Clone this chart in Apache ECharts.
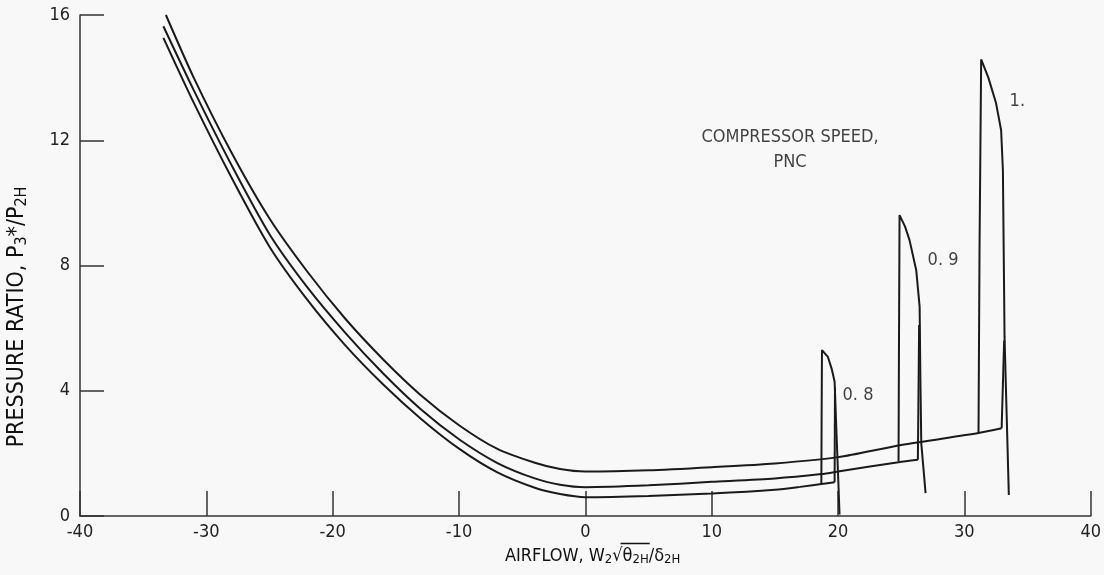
<!DOCTYPE html>
<html><head><meta charset="utf-8">
<script src="https://cdn.jsdelivr.net/npm/echarts@6/dist/echarts.min.js"></script>
<style>html,body{margin:0;padding:0;background:#f8f8f8}#c{width:1104px;height:575px}</style>
</head><body><div id="c"></div>
<script>
// ---- data ----
const xMin = -40, xMax = 40, xStep = 10;
const yMin = 0, yMax = 16, yStep = 4;

// operating lines (three), airflow vs pressure ratio
const curveUpper = [[-33.2,16.0],[-31,14.0],[-28,11.6],[-25,9.5],[-22,7.8],[-19,6.3],[-16,5.0],[-13,3.85],[-10,2.9],[-7,2.15],[-4,1.7],[-2,1.5],[0,1.42],[5,1.46],[10,1.56],[15,1.68],[20,1.88],[25,2.27],[31.12,2.65],[32.95,2.8]];
const curveMiddle = [[-33.4,15.64],[-31,13.6],[-28,11.2],[-25,9.0],[-22,7.3],[-19,5.85],[-16,4.55],[-13,3.4],[-10,2.45],[-7,1.7],[-4,1.2],[-2,1.0],[0,0.92],[5,0.98],[10,1.09],[15,1.2],[18.68,1.34],[20,1.42],[24.79,1.72],[26.32,1.8]];
const curveLower = [[-33.4,15.27],[-31,13.2],[-28,10.8],[-25,8.6],[-22,6.9],[-19,5.45],[-16,4.2],[-13,3.1],[-10,2.15],[-7,1.4],[-4,0.9],[-2,0.7],[0,0.6],[5,0.64],[10,0.72],[15,0.84],[17,0.93],[18.68,1.02],[19.73,1.08]];

// compressor speed lines
const speed08 = [[18.68,1.02],[18.7,3.0],[18.73,5.30],[19.2,5.08],[19.5,4.7],[19.73,4.29],[19.87,2.74],[19.99,1.47],[20.12,0.05]];
const speed09 = [[24.79,1.75],[24.82,5.0],[24.87,9.61],[25.3,9.25],[25.66,8.81],[26.19,7.85],[26.46,6.68],[26.52,4.34],[26.59,2.32],[26.93,0.73]];
const speed10 = [[31.12,2.65],[31.2,8.5],[31.33,14.58],[31.9,14.0],[32.5,13.2],[32.91,12.32],[33.05,11.04],[33.13,7.85],[33.18,5.72],[33.35,3.2],[33.52,0.67]];
const rise08 = [[19.73,1.08],[19.76,4.1]];
const rise09 = [[26.32,1.8],[26.42,6.1]];
const rise10 = [[32.95,2.8],[33.15,5.6]];

const speedLabels = ['0. 8','0. 9','1.'];
const speedLabelAt = [[20.36,3.86],[27.09,8.17],[33.58,13.25]];
const legendTitle = 'COMPRESSOR SPEED,\nPNC';
const legendTitleAt = [16.2,11.7];

const FONT = "'DejaVu Sans Condensed','Liberation Sans Narrow','Liberation Sans',sans-serif";
const INK = '#1a1a1a';

function lineSeries(d){
  return {type:'line', data:d, showSymbol:false, symbol:'none', smooth:false,
    lineStyle:{color:INK, width:2}, silent:true, z:3};
}
function curveSeries(d){
  const s = lineSeries(d); s.smooth = 0.25; return s;
}

// measure pieces of the x-axis title to place the radical's vinculum
const ctx = document.createElement('canvas').getContext('2d');
function tw(t, size){ ctx.font = size + 'px ' + FONT; return ctx.measureText(t).width; }
const radStart = tw('AIRFLOW, W',18) + tw('2',13);
const radW = tw('\u221A',18);
const barX0 = radStart + radW*0.8;
const barX1 = radStart + radW + tw('\u03B8',18) + tw('2H',13) + 1;

const chart = echarts.init(document.getElementById('c'), null, {renderer:'canvas'});
chart.setOption({
  backgroundColor:'#f8f8f8',
  animation:false,
  grid:{left:80, right:13, top:15, bottom:59, containLabel:false},
  xAxis:{type:'value', min:xMin, max:xMax, interval:xStep,
    axisLine:{onZero:false, lineStyle:{color:'#333', width:1.5}},
    axisTick:{inside:true, length:25, lineStyle:{color:'#333', width:1.5}},
    axisLabel:{color:'#222', fontFamily:FONT, fontSize:18, margin:7},
    splitLine:{show:false}},
  yAxis:{type:'value', min:yMin, max:yMax, interval:yStep,
    axisLine:{show:true, onZero:false, lineStyle:{color:'#333', width:1.5}},
    axisTick:{show:true, inside:true, length:24, lineStyle:{color:'#333', width:1.5}},
    axisLabel:{color:'#222', fontFamily:FONT, fontSize:18, margin:10},
    splitLine:{show:false}},
  series:[
    curveSeries(curveUpper), curveSeries(curveMiddle), curveSeries(curveLower),
    lineSeries(speed08), lineSeries(speed09), lineSeries(speed10),
    lineSeries(rise08), lineSeries(rise09), lineSeries(rise10),
    {type:'scatter', symbolSize:0, silent:true,
      data: speedLabels.map((t,i)=>({name:t, value:speedLabelAt[i]})),
      label:{show:true, position:'right', distance:0, formatter:p=>p.name,
        color:'#111', fontFamily:FONT, fontSize:18}},
    {type:'scatter', symbolSize:0, silent:true,
      data:[{name:legendTitle, value:legendTitleAt}],
      label:{show:true, position:'inside', formatter:p=>p.name, align:'center',
        color:'#111', fontFamily:FONT, fontSize:18, lineHeight:25}}
  ],
  graphic:[
    {type:'group', left:505, top:541, silent:true, children:[
      {type:'text', x:0, y:2,
        style:{text:'AIRFLOW, W{s|2}\u221A\u03B8{s|2H}/\u03B4{s|2H}',
          fill:'#111', font:"18px "+FONT,
          rich:{s:{fontSize:13, fontFamily:FONT, padding:[8,0,0,0], fill:'#111'}}}},
      {type:'line', shape:{x1:barX0, y1:0, x2:barX1, y2:0},
        style:{stroke:'#111', lineWidth:1.5}}
    ]},
    {type:'text', x:17, y:317, rotation:Math.PI/2, silent:true,
      style:{text:'PRESSURE RATIO, P{s|3}*/P{s|2H}', fill:'#111', font:"23px "+FONT,
        align:'center', verticalAlign:'middle',
        rich:{s:{fontSize:16, fontFamily:FONT, padding:[9,0,0,0], fill:'#111'}}}}
  ]
});
</script>
</body></html>
